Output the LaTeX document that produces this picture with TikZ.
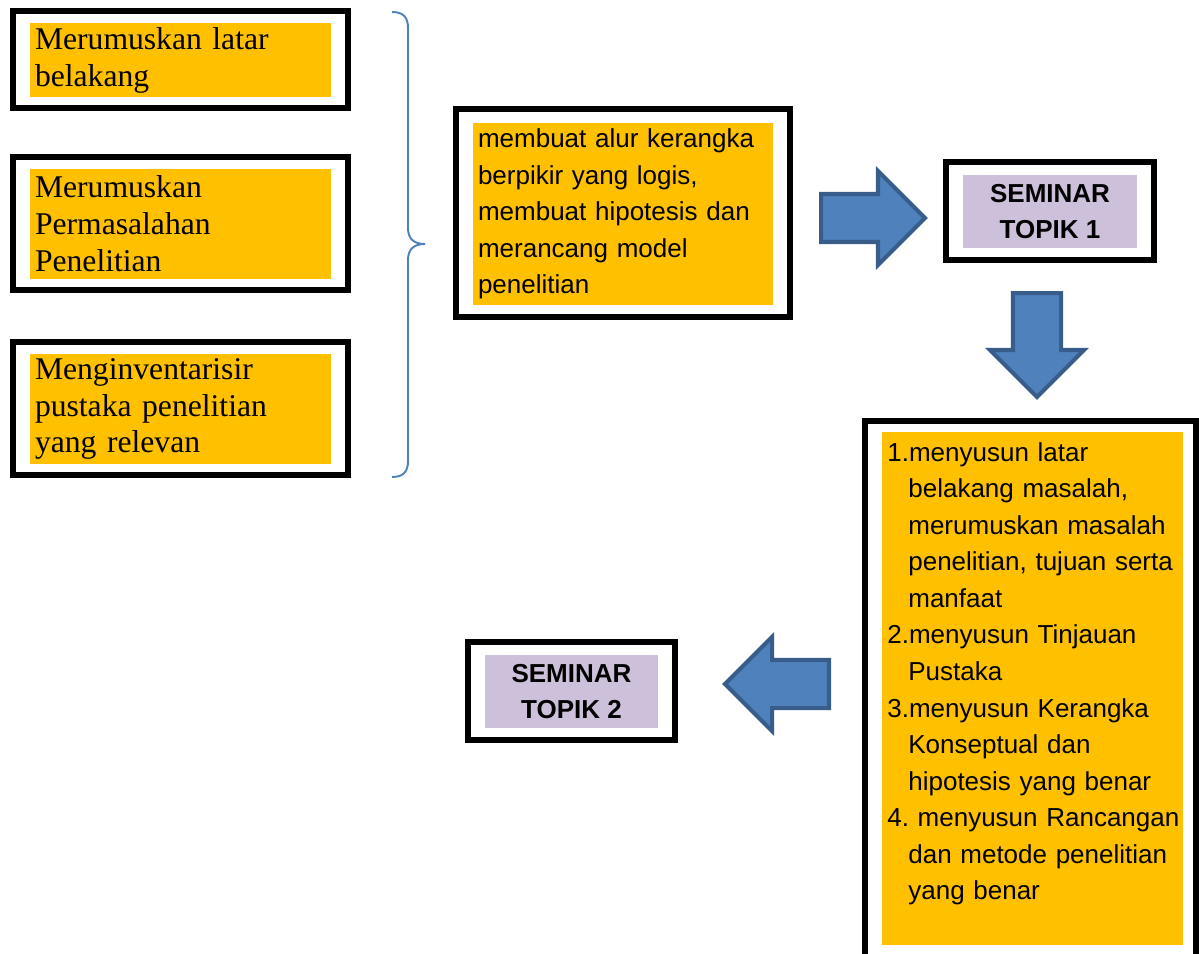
\documentclass[tikz,border=0pt]{standalone}
\usepackage{fontspec}
\setmainfont{Liberation Serif}
\setsansfont{Liberation Sans}
\usetikzlibrary{shapes.arrows}

\definecolor{boxOrange}{HTML}{FFC000}
\definecolor{boxLilac}{HTML}{CCC0DA}
\definecolor{arrowBlue}{HTML}{4F81BD}
\definecolor{arrowEdge}{HTML}{385D8A}

\tikzset{
	frame/.style={draw, rectangle, line width=3.4pt, inner sep=0pt},
	fillbox/.style={rectangle, inner sep=0pt, align=left},
	serifText/.style={font=\fontsize{18pt}{21pt}\selectfont},
	sansText/.style={font=\sffamily\fontsize{14.8pt}{20.8pt}\selectfont},
	seminarText/.style={font=\sffamily\bfseries\fontsize{14.8pt}{21pt}\selectfont, align=center},
	blockarrow/.style={single arrow, draw=arrowEdge, fill=arrowBlue, line width=2.3pt,
		inner sep=0.44cm, minimum height=2.08cm, single arrow head extend=0.46cm,
		single arrow tip angle=90}
}

\begin{document}
\begin{tikzpicture}[x=0.02cm, y=-0.02cm]
		
		\useasboundingbox (0,0) rectangle (1199,953);
		
		%Left column
		\node (latarFrame) at (180.5,59.5) [frame, minimum width=6.7cm, minimum height=1.94cm]{};
		\node (latar) at (180.5,60) [fillbox, serifText, fill=boxOrange, minimum width=6.02cm, 
		minimum height=1.48cm, text width=5.82cm]{Merumuskan latar\\belakang};
		
		\node (masalahFrame) at (180.5,223.5) [frame, minimum width=6.7cm, minimum height=2.66cm]{};
		\node (masalah) at (180.5,224) [fillbox, serifText, fill=boxOrange, minimum width=6.02cm, 
		minimum height=2.2cm, text width=5.82cm]{Merumuskan\\Permasalahan\\Penelitian};
		
		\node (pustakaFrame) at (180.5,408.5) [frame, minimum width=6.7cm, minimum height=2.66cm]{};
		\node (pustaka) at (180.5,409) [fillbox, serifText, fill=boxOrange, minimum width=6.02cm, 
		minimum height=2.2cm, text width=5.82cm]{Menginventarisir\\pustaka penelitian\\yang relevan};
		
		%Kurung kurawal
		\draw[arrowBlue, line width=1.1pt] (392,12) .. controls (404,12) and (408,18) .. (408,28) 
		-- (408,228) .. controls (408,238) and (413,244) .. (425,244) 
		.. controls (413,244) and (408,250) .. (408,260) 
		-- (408,461) .. controls (408,471) and (404,477) .. (392,477);
		
		%Kerangka berpikir
		\node (kerangkaFrame) at (623,213) [frame, minimum width=6.68cm, minimum height=4.16cm]{};
		\node (kerangka) at (623,214) [fillbox, sansText, fill=boxOrange, minimum width=6cm, 
		minimum height=3.66cm, text width=5.8cm]{membuat alur kerangka\\berpikir yang logis,\\
		membuat hipotesis dan\\merancang model\\penelitian};
		
		%Seminar topik 1
		\node (topikSatuFrame) at (1050,211) [frame, minimum width=4.16cm, minimum height=1.96cm]{};
		\node (topikSatu) at (1050,211.5) [fillbox, seminarText, fill=boxLilac, minimum width=3.48cm, 
		minimum height=1.46cm]{SEMINAR\\TOPIK 1};
		
		%Daftar langkah
		\node (langkahFrame) at (1030.5,700.5) [frame, minimum width=6.62cm, minimum height=11.18cm]{};
		\node (langkahBox) at (1032.5,688.5) [fillbox, fill=boxOrange, minimum width=6.02cm, 
		minimum height=10.26cm]{};
		\node (langkah) at (887,442) [fillbox, sansText, anchor=north west, text width=6.3cm]{
		1.menyusun latar\\
		\hspace*{0.42cm}belakang masalah,\\
		\hspace*{0.42cm}merumuskan masalah\\
		\hspace*{0.42cm}penelitian, tujuan serta\\
		\hspace*{0.42cm}manfaat\\
		2.menyusun Tinjauan\\
		\hspace*{0.42cm}Pustaka\\
		3.menyusun Kerangka\\
		\hspace*{0.42cm}Konseptual dan\\
		\hspace*{0.42cm}hipotesis yang benar\\
		4.\ menyusun Rancangan\\
		\hspace*{0.42cm}dan metode penelitian\\
		\hspace*{0.42cm}yang benar};
		
		%Seminar topik 2
		\node (topikDuaFrame) at (571.5,691) [frame, minimum width=4.14cm, minimum height=1.96cm]{};
		\node (topikDua) at (571.5,691.5) [fillbox, seminarText, fill=boxLilac, minimum width=3.46cm, 
		minimum height=1.46cm]{SEMINAR\\TOPIK 2};
		
		%Panah
		\node (arrowRight) at (819,218) [blockarrow, anchor=tail]{};
		\node (arrowDown) at (1037,291) [blockarrow, shape border rotate=270, anchor=tail]{};
		\node (arrowLeft) at (831,684) [blockarrow, shape border rotate=180, anchor=tail]{};
		
\end{tikzpicture}
\end{document}
